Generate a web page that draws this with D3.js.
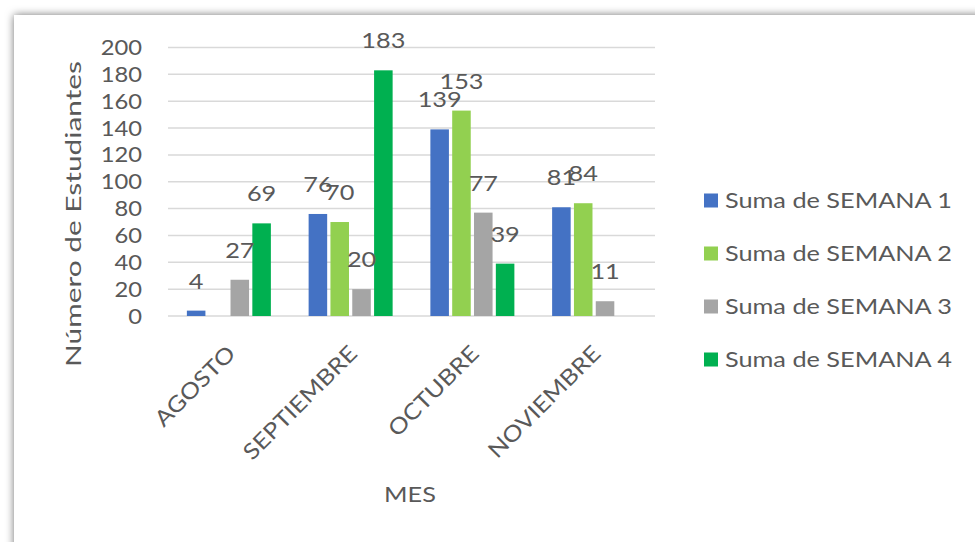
<!DOCTYPE html>
<html>
<head>
<meta charset="utf-8">
<script src="https://cdn.jsdelivr.net/npm/d3@7"></script>
<style>
  html, body { margin: 0; padding: 0; background: #fff; }
  svg { display: block; }
  text { font-family: Lato, "Open Sans", sans-serif; fill: #595959; font-weight: 400; }
</style>
</head>
<body>
<svg id="chart" width="975" height="542"></svg>
<script>
const months = ["AGOSTO", "SEPTIEMBRE", "OCTUBRE", "NOVIEMBRE"];
const seriesNames = ["Suma de SEMANA 1", "Suma de SEMANA 2", "Suma de SEMANA 3", "Suma de SEMANA 4"];
const semana1 = [4, 76, 139, 81];
const semana2 = [null, 70, 153, 84];
const semana3 = [27, 20, 77, 11];
const semana4 = [69, 183, 39, null];
const yTicks = [0, 20, 40, 60, 80, 100, 120, 140, 160, 180, 200];
const colors = ["#4472C4", "#92D050", "#A5A5A5", "#00B050"];
const yTitle = "Número de Estudiantes";
const xTitle = "MES";

const seriesValues = [semana1, semana2, semana3, semana4];
const SX = "scale(1.15,1)";

const svg = d3.select("#chart");

// frame with shadow
const defs = svg.append("defs");
const f = defs.append("filter").attr("id", "sh").attr("x", "-5%").attr("y", "-5%").attr("width", "110%").attr("height", "110%");
f.append("feDropShadow").attr("dx", 0).attr("dy", 0).attr("stdDeviation", 4).attr("flood-color", "#000").attr("flood-opacity", 0.55);
svg.append("rect").attr("x", 14).attr("y", 15).attr("width", 1100).attr("height", 700)
  .attr("fill", "#fff").attr("filter", "url(#sh)");

const plot = { left: 168, right: 655, top: 47.5, bottom: 316 };

const y = d3.scaleLinear().domain([0, 200]).range([plot.bottom, plot.top]);
const x0 = d3.scaleBand().domain(months).range([plot.left, plot.right]).paddingInner(0.31).paddingOuter(0.155);
const x1 = d3.scaleBand().domain(d3.range(seriesNames.length)).range([0, x0.bandwidth()]).paddingInner(0.15);

// grid
svg.append("g").selectAll("line").data(yTicks).join("line")
  .attr("x1", plot.left).attr("x2", plot.right)
  .attr("y1", d => y(d)).attr("y2", d => y(d))
  .attr("stroke", "#d9d9d9").attr("stroke-width", 1.5);

// y axis labels
const yAxis = d3.axisLeft(y).tickValues(yTicks).tickSize(0).tickPadding(0);
const ya = svg.append("g").attr("transform", `translate(${plot.left - 26},0)`).call(yAxis);
ya.select(".domain").remove();
ya.selectAll("text").attr("font-size", 22).attr("fill", "#595959")
  .attr("font-family", "Lato").attr("transform", "scale(1.08,1)");

// bars
const flat = [];
months.forEach((m, i) => seriesValues.forEach((s, j) => {
  if (s[i] != null) flat.push({ m, j, v: s[i] });
}));
svg.append("g").selectAll("rect").data(flat).join("rect")
  .attr("x", d => x0(d.m) + x1(d.j))
  .attr("width", x1.bandwidth())
  .attr("y", d => y(d.v))
  .attr("height", d => y(0) - y(d.v))
  .attr("fill", d => colors[d.j]);

// data labels
svg.append("g").selectAll("text").data(flat).join("text")
  .attr("transform", d => `translate(${x0(d.m) + x1(d.j) + x1.bandwidth() / 2},${y(d.v) - 22}) ${SX}`)
  .attr("text-anchor", "middle")
  .attr("font-size", 22)
  .text(d => d.v);

// x axis labels
svg.append("g").selectAll("text").data(months).join("text")
  .attr("transform", d => `translate(${x0(d) + x0.bandwidth() / 2 - 3},${plot.bottom + 28}) rotate(-45) ${SX}`)
  .attr("text-anchor", "end")
  .attr("dy", "0.7em")
  .attr("font-size", 22)
  .text(d => d);

// axis titles
svg.append("text")
  .attr("transform", `translate(81,214) rotate(-90)`)
  .attr("text-anchor", "middle")
  .attr("font-size", 22)
  .attr("textLength", 306)
  .attr("lengthAdjust", "spacingAndGlyphs")
  .text(yTitle);
svg.append("text")
  .attr("transform", `translate(410,502) ${SX}`)
  .attr("text-anchor", "middle")
  .attr("font-size", 22)
  .text(xTitle);

// legend
const leg = svg.append("g").selectAll("g").data(seriesNames).join("g")
  .attr("transform", (d, i) => `translate(704,${200.5 + i * 53})`);
leg.append("rect").attr("x", 0).attr("y", -7).attr("width", 14).attr("height", 14).attr("fill", (d, i) => colors[i]);
leg.append("text").attr("transform", `translate(21,0) ${SX}`).attr("dy", "0.35em").attr("font-size", 22).text(d => d);
</script>
</body>
</html>
